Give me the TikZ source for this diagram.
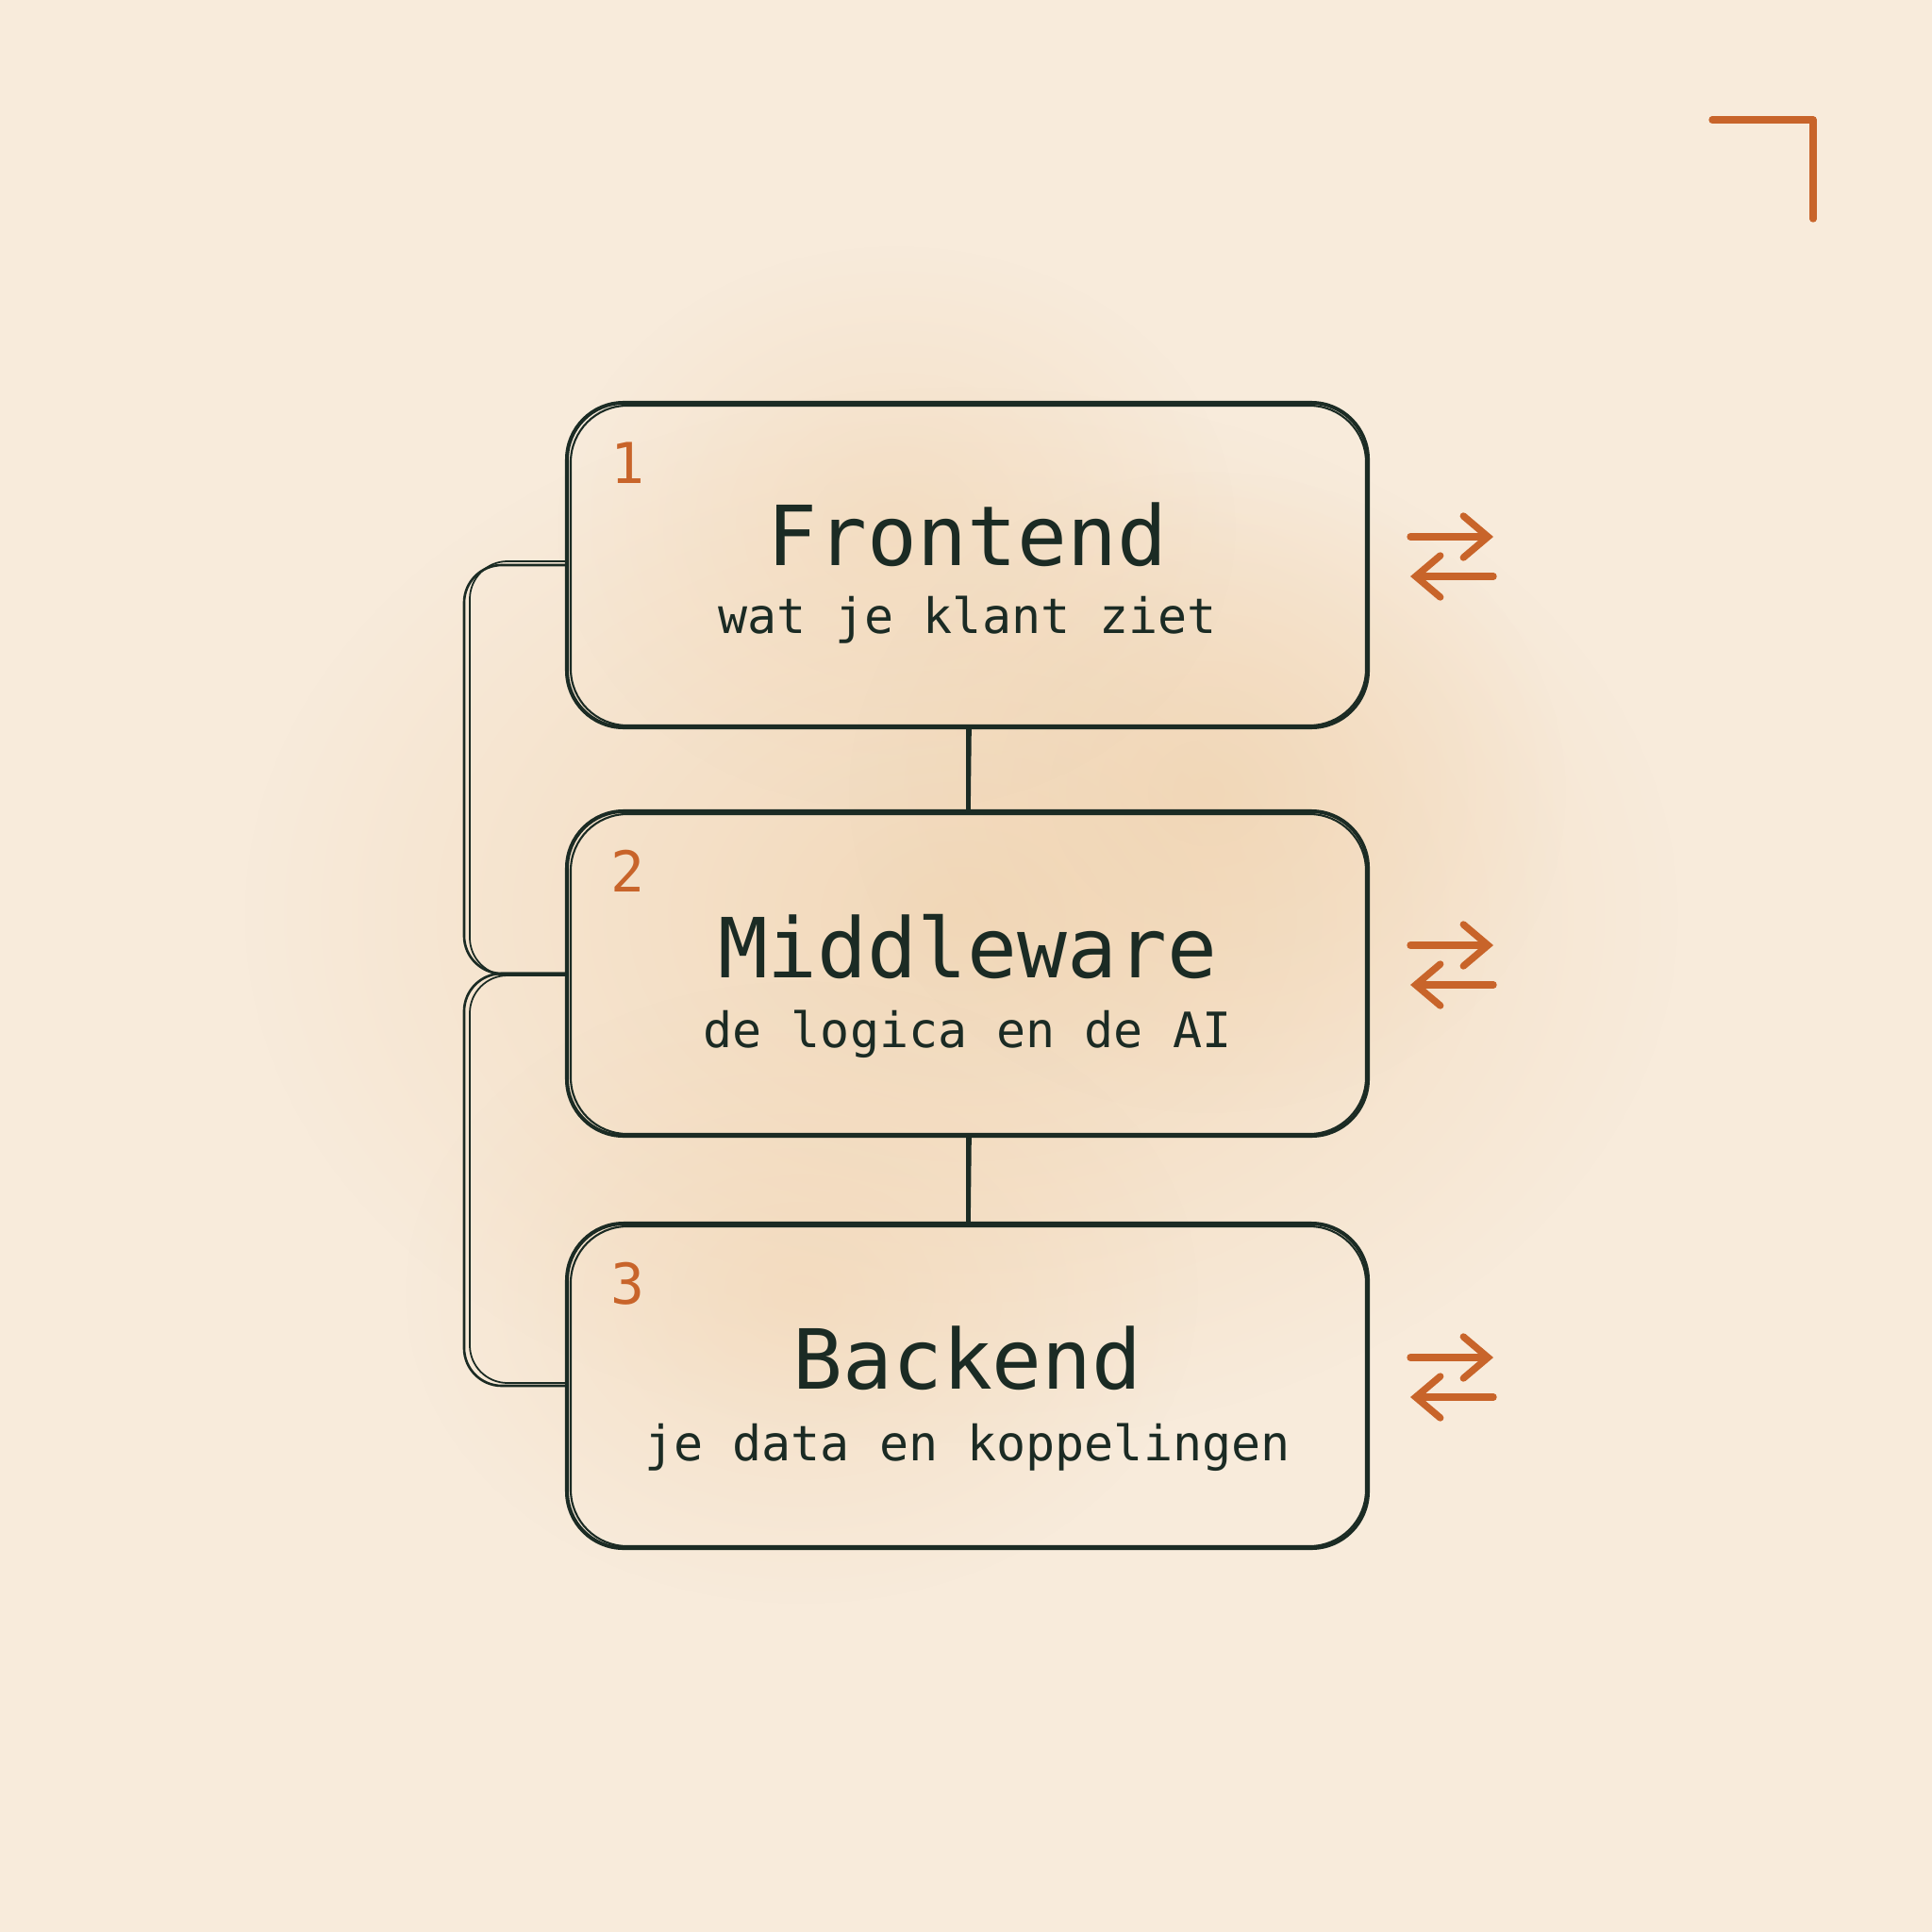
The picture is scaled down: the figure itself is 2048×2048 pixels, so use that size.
\documentclass[tikz,border=0pt]{standalone}
\usepackage{fontspec}
\setmonofont{DejaVu Sans Mono}
\usetikzlibrary{arrows.meta,fadings,calc}
\definecolor{bgc}{HTML}{F8EBDB}
\definecolor{blobc}{HTML}{F0D2AE}
\definecolor{ink}{HTML}{1B2B24}
\definecolor{org}{HTML}{C8642A}
\tikzfading[name=fuzzy, inner color=transparent!0, outer color=transparent!100]
\tikzset{
  box/.style={draw=ink, line width=1.15pt, rounded corners=6mm, minimum width=84.9mm, minimum height=34.4mm, inner sep=0pt},
  sketch/.style={draw=ink, line width=0.6pt, rounded corners=6mm},
  title/.style={text=ink, font=\ttfamily\fontsize{25}{28}\selectfont, anchor=base},
  sub/.style={text=ink, font=\ttfamily\fontsize{14.7}{18}\selectfont, anchor=base},
  num/.style={text=org, font=\ttfamily\fontsize{17}{20}\selectfont, anchor=base west},
  link/.style={draw=ink, line width=0.75pt},
  swap/.style={draw=org, line width=2.1pt, line cap=round, -{Straight Barb[length=2.6mm, width=4.4mm, line cap=round]}},
}
\begin{document}
\begin{tikzpicture}[x=0.1mm,y=-0.1mm]
\useasboundingbox (0,0) rectangle (2048,2048);
\fill[bgc] (0,0) rectangle (2048,2048);
% watercolor wash
\fill[blobc, path fading=fuzzy, fill opacity=0.75] (1020,970) ellipse [x radius=760, y radius=560];
\fill[blobc, path fading=fuzzy, fill opacity=0.6] (1280,840) ellipse [x radius=380, y radius=340];
\fill[blobc, path fading=fuzzy, fill opacity=0.45] (950,560) ellipse [x radius=360, y radius=300];
\fill[blobc, path fading=fuzzy, fill opacity=0.5] (850,1370) ellipse [x radius=420, y radius=330];
% corner mark
\draw[org, line width=2.1pt, line cap=round, line join=round] (1815,127) -- (1922,127) -- (1922,232);
% boxes
\node[box] (f) at (1025.5,599) {};
\node[box] (m) at (1025.5,1032) {};
\node[box] (b) at (1025.5,1469) {};
\foreach \n in {f,m,b}{
  \draw[sketch] ($(\n.south west)+(6,-4)$) rectangle ($(\n.north east)+(-4,5)$);
}
% texts
\node[num] (n1) at ($(f.north west)+(36,88)$) {1};
\node[title] (t1) at ($(f.center)+(0,0)$) {Frontend};
\node[sub] (s1) at ($(f.center)+(0,72)$) {wat je klant ziet};
\node[num] (n2) at ($(m.north west)+(36,88)$) {2};
\node[title] (t2) at ($(m.center)+(0,4)$) {Middleware};
\node[sub] (s2) at ($(m.center)+(0,78)$) {de logica en de AI};
\node[num] (n3) at ($(b.north west)+(36,88)$) {3};
\node[title] (t3) at ($(b.center)+(0,3)$) {Backend};
\node[sub] (s3) at ($(b.center)+(0,79)$) {je data en koppelingen};
% vertical links
\draw[link] (f.south) -- (m.north);
\draw[link] ($(f.south)+(3,0)$) -- ($(m.north)+(2,0)$);
\draw[link] (m.south) -- (b.north);
\draw[link] ($(m.south)+(3,0)$) -- ($(b.north)+(2,0)$);
% left brackets
\draw[link, rounded corners=4mm] (f.west) -- ++(-107,0) |- (m.west);
\draw[link, line width=0.5pt, rounded corners=4mm] ($(f.west)+(0,-4)$) -- ++(-101,0) |- ($(m.west)+(0,2)$);
\draw[link, rounded corners=4mm] (m.west) -- ++(-107,0) |- (b.west);
\draw[link, line width=0.5pt, rounded corners=4mm] ($(m.west)+(0,2)$) -- ++(-101,0) |- ($(b.west)+(0,-3)$);
% swap arrows
\foreach \n in {f,m,b}{
  \coordinate (\n a1) at ($(\n.east)+(43,-30)$);
  \coordinate (\n a2) at ($(\n.east)+(131,-30)$);
  \coordinate (\n b1) at ($(\n.east)+(131,12)$);
  \coordinate (\n b2) at ($(\n.east)+(43,12)$);
  \draw[swap] (\n a1) -- (\n a2);
  \draw[swap] (\n b1) -- (\n b2);
}
\end{tikzpicture}
\end{document}
